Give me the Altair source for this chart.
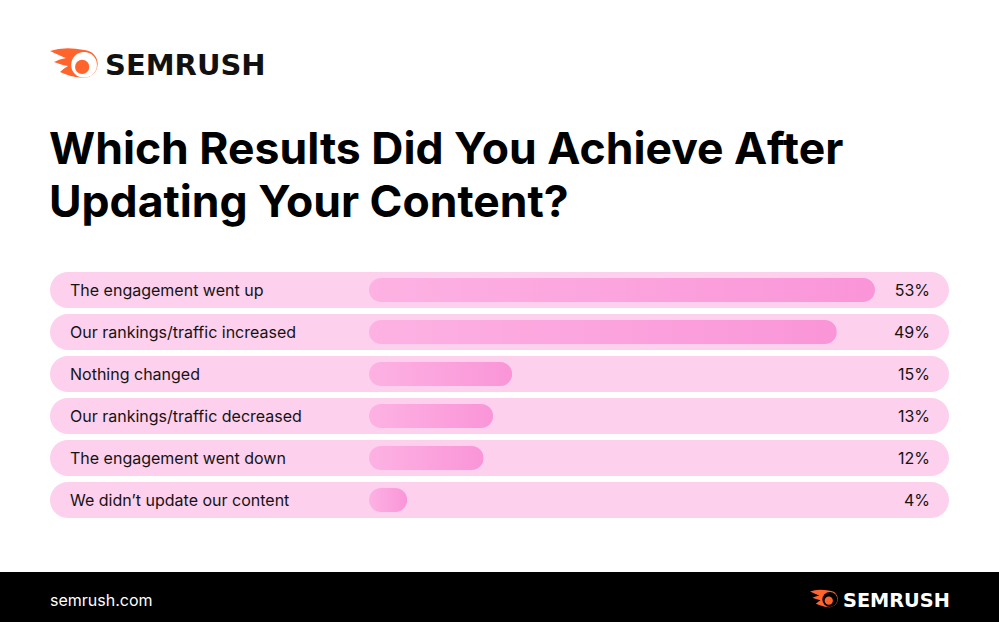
import altair as alt
import pandas as pd

categories = [
    "The engagement went up",
    "Our rankings/traffic increased",
    "Nothing changed",
    "Our rankings/traffic decreased",
    "The engagement went down",
    "We didn\u2019t update our content",
]
values = [53, 49, 15, 13, 12, 4]
value_labels = ["53%", "49%", "15%", "13%", "12%", "4%"]

title_lines = ["Which Results Did You Achieve After", "Updating Your Content?"]
brand = "SEMRUSH"
site = "semrush.com"

df = pd.DataFrame({"label": categories, "value": values, "vlabel": value_labels})

W, H = 999, 622
ORANGE = "#ff642d"
FONT = "Inter"

yenc = alt.Y("label:N", sort=categories, axis=None,
             scale=alt.Scale(domain=categories, range=[269, 521], paddingInner=0, paddingOuter=0))
xscale = alt.Scale(domain=[0, 53], range=[369, 875])

base = alt.Chart(df)

pills = base.mark_bar(size=36, cornerRadius=18, color="#fdd0ee").encode(
    x=alt.value(50), x2=alt.value(949), y=yenc)

bars = base.mark_bar(
    size=24, cornerRadius=12,
    color=alt.Gradient(gradient="linear", x1=0, x2=1, y1=0, y2=0,
                       stops=[alt.GradientStop(offset=0, color="#fdb2e3"),
                              alt.GradientStop(offset=1, color="#fa95d8")]),
).encode(x=alt.X("value:Q", scale=xscale, axis=None), y=yenc)

labels = base.mark_text(align="left", baseline="middle", font=FONT, fontSize=16,
                        color="#141414", dy=1).encode(
    x=alt.value(70), y=yenc, text="label:N")

vals = base.mark_text(align="right", baseline="middle", font=FONT, fontSize=16,
                      color="#141414", dy=1).encode(
    x=alt.value(930), y=yenc, text="vlabel:N")

one = alt.Data(values=[{"a": 1}])

title1 = alt.Chart(one).mark_text(align="left", baseline="alphabetic", font=FONT,
                                  fontSize=44.5, fontWeight="bold", color="#000000",
                                  text=title_lines[0]).encode(
    x=alt.value(49), y=alt.value(164))
title2 = alt.Chart(one).mark_text(align="left", baseline="alphabetic", font=FONT,
                                  fontSize=44.5, fontWeight="bold", color="#000000",
                                  text=title_lines[1]).encode(
    x=alt.value(49), y=alt.value(217))

# logo icon (comet) as a custom symbol path, unit coords
comet = ("M 0.417 -0.583 Q -0.4 -0.75 -1 -0.542 Q -0.6 -0.35 -0.333 -0.25 "
         "Q -0.6 -0.2 -0.833 -0.083 Q -0.5 0.05 -0.25 0.083 "
         "Q -0.45 0.2 -0.583 0.333 Q -0.1 0.55 0.25 0.5625 "
         "A 0.583 0.583 0 1 0 0.417 -0.583 Z")

def logo(cx, cy, size_px, text_x, text_y, fsize, tcolor, inner):
    s = size_px * size_px
    icon = alt.Chart(one).mark_point(shape=comet, filled=True, opacity=1,
                                     color=ORANGE, size=s, strokeWidth=0).encode(
        x=alt.value(cx), y=alt.value(cy))
    r = size_px * 0.30
    hole = alt.Chart(one).mark_point(shape="circle", filled=True, opacity=1,
                                     color=inner, size=r * r * 3.2, strokeWidth=0).encode(
        x=alt.value(cx + size_px * 0.21), y=alt.value(cy + size_px * 0.02))
    dot = alt.Chart(one).mark_point(shape="circle", filled=True, opacity=1,
                                    color=ORANGE, size=(r * 0.55) ** 2 * 3.2, strokeWidth=0).encode(
        x=alt.value(cx + size_px * 0.17), y=alt.value(cy + size_px * 0.06))
    txt = alt.Chart(one).mark_text(align="left", baseline="alphabetic", font="DejaVu Sans",
                                   fontSize=fsize, fontWeight="bold", color=tcolor,
                                   text=brand).encode(
        x=alt.value(text_x), y=alt.value(text_y))
    return [icon, hole, dot, txt]

top_logo = logo(74, 64, 48, 105, 75, 29, "#111111", "#ffffff")

footer = alt.Chart(one).mark_rect(color="#000000").encode(
    x=alt.value(0), x2=alt.value(W), y=alt.value(572), y2=alt.value(H))
site_txt = alt.Chart(one).mark_text(align="left", baseline="alphabetic", font=FONT,
                                    fontSize=16, color="#ffffff", text=site).encode(
    x=alt.value(50), y=alt.value(606))
foot_logo = logo(824, 599, 28, 843, 607, 19.3, "#ffffff", "#000000")

chart = alt.layer(pills, bars, labels, vals, title1, title2, *top_logo,
                  footer, site_txt, *foot_logo).properties(
    width=W, height=H, padding=0, autosize=alt.AutoSizeParams(type="none"),
    background="#ffffff"
).configure_view(stroke=None)

chart.save("out.html", embed_options={"renderer": "svg", "actions": False})
